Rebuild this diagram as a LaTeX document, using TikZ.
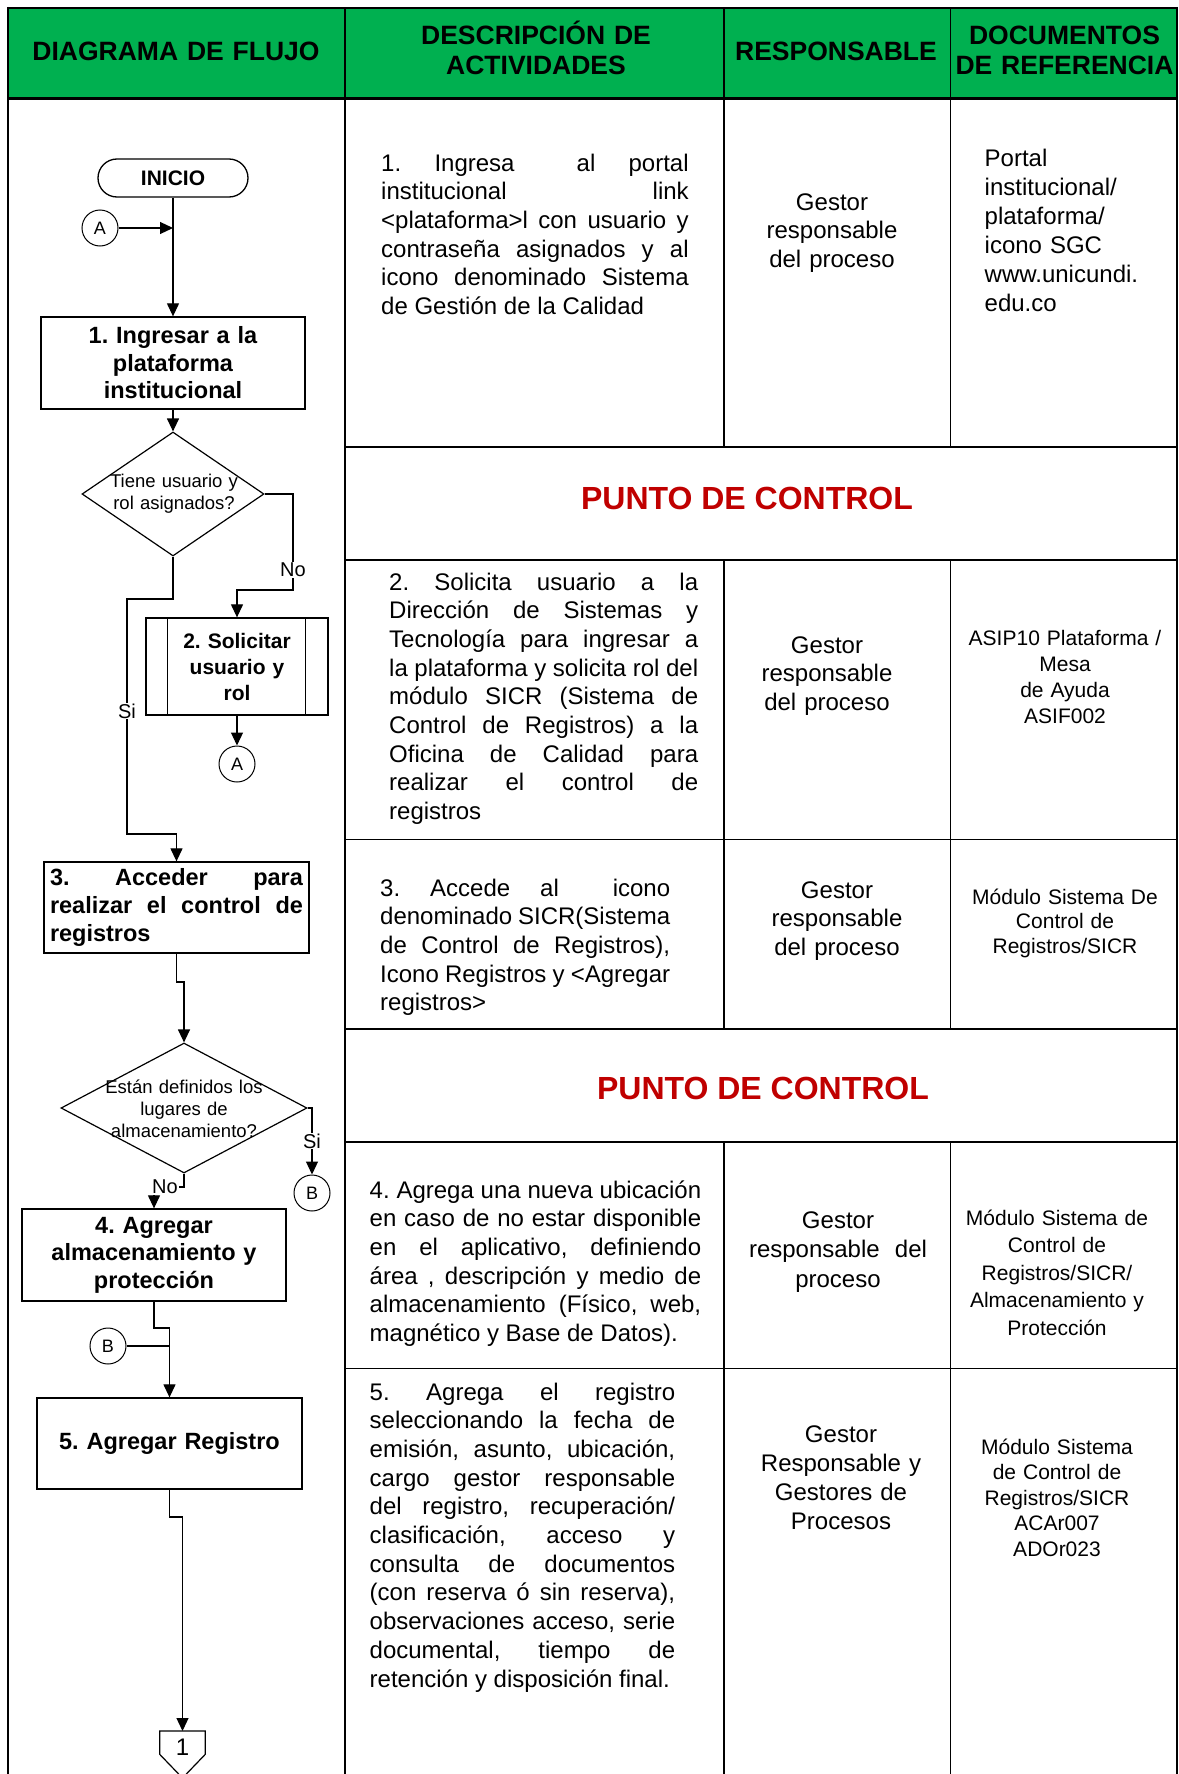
\documentclass[tikz,border=0pt]{standalone}
\usepackage{fontspec}
\setmainfont{Liberation Sans}
\usetikzlibrary{arrows.meta,shapes.geometric}
\newcommand\fsz[2]{\fontsize{#1}{#2}\selectfont}
\newcommand\jblock[2]{\vtop{\hsize=#1pt\relax #2}}
\newcommand\jline[1]{\hbox to\hsize{#1}}
\newcommand\lline[1]{\hbox{#1}}
\definecolor{hdrgreen}{RGB}{0,176,80}
\definecolor{ctrlred}{RGB}{192,0,0}
\AtBeginDocument{\frenchspacing}
\begin{document}
\begin{tikzpicture}[x=1pt,y=-1pt,
  grid/.style={line width=1.6pt},
  ln/.style={line width=1.2pt},
  arr/.style={line width=1.2pt,-{Triangle[length=13pt,width=12pt]}},
  box/.style={draw,line width=1.3pt,align=center,inner sep=0pt},
  desc/.style={anchor=base west,inner sep=0pt,font=\fsz{24}{28.7}},
  resp/.style={anchor=base,inner sep=0pt,align=center,text width=230,font=\fsz{24}{28.7}},
  docs/.style={anchor=base,inner sep=0pt,align=center,text width=225,font=\fsz{21}{25.5}},
  hdr/.style={anchor=base,inner sep=0pt,align=center,text width=330,font=\fsz{26.5}{29.5}\bfseries},
  ctrl/.style={anchor=base,inner sep=0pt,text=ctrlred,font=\fsz{32}{38}\bfseries},
  conn/.style={draw,circle,line width=1pt,minimum size=36pt,inner sep=0pt,font=\fsz{18}{20}},
  lbl/.style={fill=white,inner sep=1pt,font=\fsz{20}{22}},
  dtext/.style={align=center,inner sep=0pt,text width=220,font=\fsz{18.5}{22}},
  dia/.style={draw,diamond,line width=1.2pt,inner sep=0pt}
]
\useasboundingbox (0,0) rectangle (1178,1774);
\fill[white] (0,0) rectangle (1178,1774);
% header
\fill[hdrgreen] (7.5,8) rectangle (1178,98.5);
\draw[line width=2pt] (7.5,8) -- (1178,8);
\draw[line width=2.5pt] (7.5,98.5) -- (1178,98.5);
\draw[line width=2pt] (7.5,7) -- (7.5,1774);
\draw[line width=2pt] (1177,7) -- (1177,1774);
\draw[grid] (345,8) -- (345,1774);
\draw[grid] (724,8) -- (724,447) (724,560) -- (724,1029) (724,1142) -- (724,1774);
\draw[grid] (950.5,8) -- (950.5,447) (950.5,560) -- (950.5,1029) (950.5,1142) -- (950.5,1774);
\foreach \yy in {447,560,839.5,1029,1142,1368.5} \draw[grid] (345,\yy) -- (1178,\yy);

\node[hdr] (h1) at (176,61) {DIAGRAMA DE FLUJO};
\node[hdr] (h2) at (536,45) {DESCRIPCIÓN DE\\ACTIVIDADES};
\node[hdr] (h3) at (836,60.5) {RESPONSABLE};
\node[hdr] (h4) at (1064.5,45) {DOCUMENTOS\\DE REFERENCIA};

% row 1
\node[desc] (r1d) at (381,171) {\jblock{307.5}{%
\jline{1. Ingresa\hspace{1.2em} al portal}%
\jline{institucional link}%
\jline{<plataforma>l con usuario y}%
\jline{contraseña asignados y al}%
\jline{icono denominado Sistema}%
\lline{de Gestión de la Calidad}}};
\node[resp] (r1r) at (832,210) {Gestor\\responsable\\del proceso};
\node[anchor=base west,inner sep=0pt,align=left,text width=190,font=\fsz{24}{29}] (r1c) at (984.5,166) {Portal\\institucional/\\plataforma/\\icono SGC\\www.unicundi.\\edu.co};

\node[ctrl] (pc1) at (747,509) {PUNTO DE CONTROL};

% row 2
\node[desc] (r2d) at (389,590) {\jblock{309}{%
\jline{2. Solicita usuario a la}%
\jline{Dirección de Sistemas y}%
\jline{Tecnología para ingresar a}%
\jline{la plataforma y solicita rol del}%
\jline{módulo SICR (Sistema de}%
\jline{Control de Registros) a la}%
\jline{Oficina de Calidad para}%
\jline{realizar el control de}%
\lline{registros}}};
\node[resp] (r2r) at (827,653) {Gestor\\responsable\\del proceso};
\node[docs,font=\fsz{21}{26}] (r2c) at (1065,645) {ASIP10 Plataforma /\\Mesa\\de Ayuda\\ASIF002};

% row 3
\node[desc] (r3d) at (380,896) {\jblock{290}{%
\jline{3. Accede al\hspace{1em} icono}%
\jline{denominado SICR(Sistema}%
\jline{de Control de Registros),}%
\jline{Icono Registros y <Agregar}%
\lline{registros>}}};
\node[resp] (r3r) at (837,898) {Gestor\\responsable\\del proceso};
\node[docs,font=\fsz{21}{24.5}] (r3c) at (1065,904) {Módulo Sistema De\\Control de\\Registros/SICR};

\node[ctrl] (pc2) at (763,1099) {PUNTO DE CONTROL};

% row 4
\node[desc] (r4d) at (369.5,1198) {\jblock{331.5}{%
\jline{4. Agrega una nueva ubicación}%
\jline{en caso de no estar disponible}%
\jline{en el aplicativo, definiendo}%
\jline{área , descripción y medio de}%
\jline{almacenamiento (Físico, web,}%
\lline{magnético y Base de Datos).}}};
\node[resp,font=\fsz{24}{29.5}] (r4r) at (838,1228) {Gestor\\responsable\hspace{0.3em} del\\proceso};
\node[docs,font=\fsz{21}{27.5}] (r4c) at (1057,1225) {Módulo Sistema de\\Control de\\Registros/SICR/\\Almacenamiento y\\Protección};

% row 5
\node[desc] (r5d) at (369.5,1400) {\jblock{305.5}{%
\jline{5. Agrega el registro}%
\jline{seleccionando la fecha de}%
\jline{emisión, asunto, ubicación,}%
\jline{cargo gestor responsable}%
\jline{del registro, recuperación/}%
\jline{clasificación, acceso y}%
\jline{consulta de documentos}%
\jline{(con reserva ó sin reserva),}%
\jline{observaciones acceso, serie}%
\jline{documental, tiempo de}%
\lline{retención y disposición final.}}};
\node[resp,font=\fsz{24}{29}] (r5r) at (841,1442) {Gestor\\Responsable y\\Gestores de\\Procesos};
\node[docs] (r5c) at (1057,1454) {Módulo Sistema\\de Control de\\Registros/SICR\\ACAr007\\ADOr023};

% ---------- flowchart ----------
\node[box,rounded corners=19pt,minimum width=150,minimum height=38,font=\fsz{21}{24}\bfseries] (inicio) at (173,178) {INICIO};
\node[conn] (a1) at (100,228) {A};
\coordinate (j1) at (173,228);
\node[box,minimum width=264,minimum height=92,text width=250,font=\fsz{23.5}{27.5}\bfseries] (b1) at (173,363) {1. Ingresar a la\\plataforma\\institucional};
\node[dia,minimum width=182,minimum height=124] (d1) at (173,494) {};
\node[dtext] (d1t) at (174,494) {Tiene usuario y\\rol asignados?};
\node[box,minimum width=182,minimum height=97,text width=130,font=\fsz{21}{26}\bfseries] (b2) at (237,666.5) {2. Solicitar\\usuario y\\rol};
\draw[line width=1.3pt] ([xshift=22pt]b2.north west) -- ([xshift=22pt]b2.south west);
\draw[line width=1.3pt] ([xshift=-23pt]b2.north east) -- ([xshift=-23pt]b2.south east);
\node[conn] (a2) at (237,764) {A};
\node[box,minimum width=265,minimum height=91,font=\fsz{23.5}{28}\bfseries] (b3) at (176.5,907.5) {\jblock{253}{%
\jline{3.\hfill Acceder\hfill para}%
\jline{realizar el control de}%
\lline{registros}}};
\node[dia,minimum width=246,minimum height=130] (d2) at (184,1108) {};
\node[dtext] (d2t) at (184,1109) {Están definidos los\\lugares de\\almacenamiento?};
\node[conn] (bc1) at (312,1193) {B};
\node[box,minimum width=264,minimum height=92,text width=250,font=\fsz{23.5}{27.5}\bfseries] (b4) at (154,1255) {4. Agregar\\almacenamiento y\\protección};
\node[conn] (bc2) at (108,1346) {B};
\coordinate (j2) at (169.5,1346);
\node[box,minimum width=265,minimum height=91,text width=250,font=\fsz{23.5}{27.5}\bfseries] (b5) at (169.5,1443.5) {5. Agregar Registro};
\node[inner sep=0pt,minimum width=45,minimum height=23,anchor=north] (off) at (182.5,1731) {};
\draw[line width=1.2pt] (off.north west) -- (off.north east) -- (off.south east) -- (182.5,1778) -- (off.south west) -- cycle;
\node[inner sep=0pt,font=\fsz{24}{26}] (offt) at (182.5,1747) {1};

% connectors
\draw[ln] (inicio) -- (j1);
\draw[arr] (j1) -- (b1);
\draw[arr] (a1) -- (j1);
\draw[arr] (b1) -- (d1);
\draw[arr] (d1.east) -- (293,494) -- (293,590) -| (b2.north);
\node[lbl] (lno1) at (293,570) {No};
\draw[arr] (b2) -- (a2);
\draw[arr] (d1.south) -- (173,599) -- (127,599) -- (127,834) -| (b3.north);
\node[lbl] (lsi1) at (127,711) {Si};
\draw[arr] (b3.south) -- (176.5,982) -| (d2.north);
\draw[arr] (d2.east) -| (bc1.north);
\node[lbl] (lsi2) at (312,1141) {Si};
\draw[arr] (d2.south) -- (184,1187) -| (b4.north);
\node[lbl] (lno2) at (165,1187) {No};
\draw[ln] (bc2) -- (j2);
\draw[arr] (b4.south) -- (154,1328) -| (b5.north);
\draw[arr] (b5.south) -- (169.5,1517) -| (off.north);
\end{tikzpicture}
\end{document}
